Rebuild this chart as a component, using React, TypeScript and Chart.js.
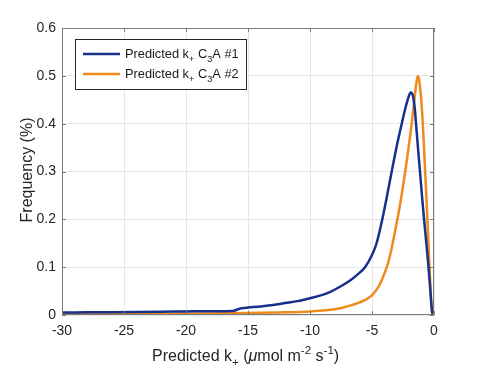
import React, { useEffect, useRef } from "react";
import { Chart, registerables } from "chart.js";

Chart.register(...registerables);

const xTicks = [-30, -25, -20, -15, -10, -5, 0];
const yTicks = [0, 0.1, 0.2, 0.3, 0.4, 0.5, 0.6];

const blueX = [-30, -28, -26, -24, -22, -20, -18, -16.2, -15.8, -15.5, -14, -13, -12, -11, -10, -9, -8.4, -7.58, -6.77, -6.2, -5.56, -4.97, -4.62, -4.22, -3.81, -3.5, -3.2, -2.9, -2.6, -2.35, -2.1, -1.88, -1.7, -1.55, -1.45, -1.3, -1.13, -0.94, -0.8, -0.6, -0.46, -0.32, -0.22, -0.15, 0];
const blueY = [0.005, 0.0055, 0.006, 0.0065, 0.007, 0.0075, 0.008, 0.0085, 0.012, 0.014, 0.018, 0.021, 0.025, 0.029, 0.035, 0.042, 0.048, 0.059, 0.072, 0.084, 0.1, 0.127, 0.151, 0.194, 0.246, 0.288, 0.328, 0.366, 0.4, 0.428, 0.452, 0.465, 0.458, 0.432, 0.4, 0.352, 0.3, 0.24, 0.2, 0.145, 0.105, 0.06, 0.025, 0.006, 0];

const orangeX = [-30, -25, -20, -15, -12, -10, -9, -8, -7.58, -7, -6.23, -5.5, -4.97, -4.6, -4.35, -4.1, -3.81, -3.6, -3.41, -3.15, -2.88, -2.6, -2.33, -2.05, -1.8, -1.55, -1.42, -1.32, -1.22, -1.1, -1.0, -0.9, -0.75, -0.62, -0.5, -0.38, -0.27, -0.18, -0.12, 0];
const orangeY = [0.002, 0.0022, 0.0028, 0.004, 0.0055, 0.0075, 0.0095, 0.012, 0.014, 0.018, 0.024, 0.032, 0.042, 0.054, 0.065, 0.08, 0.1, 0.119, 0.14, 0.174, 0.21, 0.252, 0.298, 0.35, 0.4, 0.458, 0.485, 0.499, 0.495, 0.47, 0.44, 0.4, 0.32, 0.25, 0.18, 0.11, 0.05, 0.012, 0.002, 0];

const seriesColors = ["#16308c", "#ee8b1c"];

type Seg = { t: string; sub?: boolean; sup?: boolean; italic?: boolean };
const legendLabels: Seg[][] = [
  [{ t: "Predicted k" }, { t: "+", sub: true }, { t: " C" }, { t: "3", sub: true }, { t: "A #1" }],
  [{ t: "Predicted k" }, { t: "+", sub: true }, { t: " C" }, { t: "3", sub: true }, { t: "A #2" }],
];
const xTitle: Seg[] = [
  { t: "Predicted k" }, { t: "+", sub: true }, { t: " (" }, { t: "\u03bc", italic: true }, { t: "mol m" },
  { t: "-2", sup: true }, { t: " s" }, { t: "-1", sup: true }, { t: ")" },
];
const yTitle = "Frequency (%)";

const FONT = "'Liberation Sans', Arial, sans-serif";

function drawSegs(ctx: CanvasRenderingContext2D, segs: Seg[], x: number, y: number, size: number) {
  let cx = x;
  for (const s of segs) {
    const small = s.sub || s.sup;
    const fs = small ? size * 0.72 : size;
    ctx.font = `${s.italic ? "italic " : ""}${fs}px ${FONT}`;
    const dy = s.sub ? size * 0.33 : s.sup ? -size * 0.42 : 0;
    ctx.fillText(s.t, cx, y + dy);
    cx += ctx.measureText(s.t).width;
  }
  return cx - x;
}

const decorPlugin = {
  id: "decor",
  afterDatasetsDraw(chart: any) {
    const ctx: CanvasRenderingContext2D = chart.ctx;
    const a = chart.chartArea;
    const xs = chart.scales.x;
    const ys = chart.scales.y;
    ctx.save();
    ctx.strokeStyle = "#7a7a7a";
    ctx.lineWidth = 1;
    ctx.strokeRect(a.left + 0.5, a.top + 0.5, a.right - a.left - 1, a.bottom - a.top - 1);
    ctx.beginPath();
    for (const v of xTicks) {
      const px = Math.round(xs.getPixelForValue(v)) + 0.5;
      ctx.moveTo(px, a.bottom);
      ctx.lineTo(px, a.bottom - 4);
      ctx.moveTo(px, a.top);
      ctx.lineTo(px, a.top + 4);
    }
    for (const v of yTicks) {
      const py = Math.round(ys.getPixelForValue(v)) + 0.5;
      ctx.moveTo(a.left, py);
      ctx.lineTo(a.left + 4, py);
      ctx.moveTo(a.right, py);
      ctx.lineTo(a.right - 4, py);
    }
    ctx.stroke();

    const lx = 75, ly = 39, lw = 171, lh = 50;
    ctx.fillStyle = "#ffffff";
    ctx.fillRect(lx, ly, lw, lh);
    ctx.strokeStyle = "#262626";
    ctx.strokeRect(lx + 0.5, ly + 0.5, lw, lh);
    const rows = [54, 74];
    legendLabels.forEach((segs, i) => {
      ctx.strokeStyle = seriesColors[i];
      ctx.lineWidth = 2.5;
      ctx.beginPath();
      ctx.moveTo(83, rows[i]);
      ctx.lineTo(120, rows[i]);
      ctx.stroke();
      ctx.fillStyle = "#1a1a1a";
      ctx.textBaseline = "alphabetic";
      ctx.textAlign = "left";
      drawSegs(ctx, segs, 125, rows[i] + 4, 12.8);
    });

    ctx.fillStyle = "#262626";
    ctx.textAlign = "left";
    ctx.textBaseline = "alphabetic";
    drawSegs(ctx, xTitle, 152, 361, 16);

    ctx.save();
    ctx.translate(32, 170);
    ctx.rotate(-Math.PI / 2);
    ctx.font = `16px ${FONT}`;
    ctx.textAlign = "center";
    ctx.textBaseline = "alphabetic";
    ctx.fillText(yTitle, 0, 0);
    ctx.restore();

    ctx.restore();
  },
};

export default function App() {
  const ref = useRef<HTMLCanvasElement | null>(null);
  useEffect(() => {
    document.body.style.margin = "0";
    const canvas = ref.current;
    if (!canvas) return;
    const mk = (xs: number[], ys: number[]) => xs.map((x, i) => ({ x, y: ys[i] }));
    const chart = new Chart(canvas, {
      type: "line",
      data: {
        datasets: [
          {
            label: "Predicted k+ C3A #1",
            data: mk(blueX, blueY),
            borderColor: seriesColors[0],
            borderWidth: 2.5,
            pointRadius: 0,
            cubicInterpolationMode: "monotone",
            fill: false,
          },
          {
            label: "Predicted k+ C3A #2",
            data: mk(orangeX, orangeY),
            borderColor: seriesColors[1],
            borderWidth: 2.5,
            pointRadius: 0,
            cubicInterpolationMode: "monotone",
            fill: false,
          },
        ],
      },
      options: {
        responsive: false,
        animation: false,
        devicePixelRatio: 1,
        layout: { padding: { top: 28, right: 46, left: 0, bottom: 0 } },
        plugins: { legend: { display: false }, tooltip: { enabled: false } },
        scales: {
          x: {
            type: "linear",
            min: -30,
            max: 0,
            afterBuildTicks: (s: any) => { s.ticks = xTicks.map((v) => ({ value: v })); },
            afterFit: (s: any) => { s.height = 57; },
            ticks: {
              font: { size: 14, family: FONT },
              color: "#262626",
              padding: 8,
              maxRotation: 0,
              callback: (v: any) => String(v),
            },
            grid: { color: "#e6e6e6", drawTicks: false },
            border: { display: false },
          },
          y: {
            type: "linear",
            min: 0,
            max: 0.6,
            afterBuildTicks: (s: any) => { s.ticks = yTicks.map((v) => ({ value: v })); },
            afterFit: (s: any) => { s.width = 62; },
            ticks: {
              font: { size: 14, family: FONT },
              color: "#262626",
              padding: 6,
              callback: (v: any) => String(Math.round(v * 10) / 10),
            },
            grid: { color: "#e6e6e6", drawTicks: false },
            border: { display: false },
          },
        },
      },
      plugins: [decorPlugin],
    } as any);
    return () => chart.destroy();
  }, []);
  return <canvas ref={ref} width={480} height={372} style={{ display: "block" }} />;
}
